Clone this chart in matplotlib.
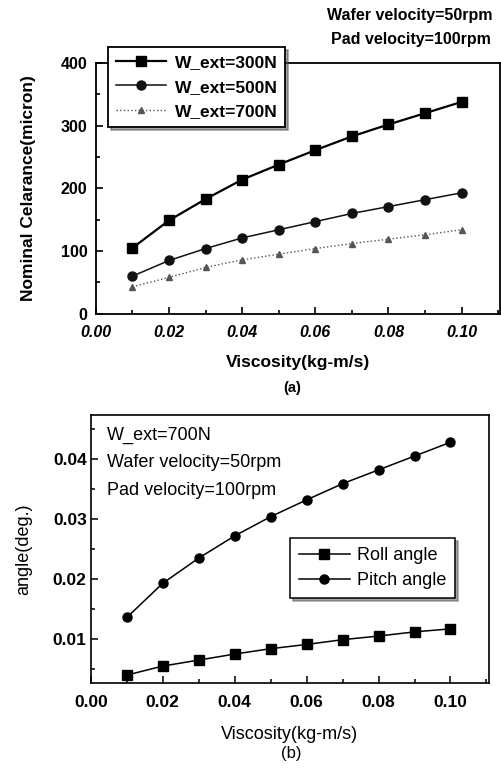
import matplotlib.pyplot as plt
from matplotlib.ticker import MultipleLocator

plt.rcParams['font.family'] = ['Liberation Sans', 'DejaVu Sans']

viscosity = [0.01, 0.02, 0.03, 0.04, 0.05, 0.06, 0.07, 0.08, 0.09, 0.10]

# (a) nominal clearance (micron)
w300 = [105, 149, 183, 214, 238, 261, 283, 302, 320, 338]
w500 = [60, 85, 104, 121, 134, 147, 160, 171, 182, 193]
w700 = [43, 58, 74, 86, 95, 104, 112, 119, 126, 134]

# (b) angles (deg.)
roll = [0.0040, 0.0055, 0.0065, 0.0075, 0.0084, 0.0091, 0.0099, 0.0105, 0.0112, 0.0117]
pitch = [0.0136, 0.0193, 0.0235, 0.0272, 0.0304, 0.0332, 0.0359, 0.0382, 0.0405, 0.0428]

fig = plt.figure(figsize=(5.02, 7.69), dpi=100)

# ---- (a)
ax1 = fig.add_axes([0.191, 0.592, 0.805, 0.326])
ax1.plot(viscosity, w300, '-', color='black', lw=1.6, marker='s', ms=7, label='W_ext=300N')
ax1.plot(viscosity, w500, '-', color='#111111', lw=1.1, marker='o', ms=6.5, label='W_ext=500N')
ax1.plot(viscosity, w700, ':', color='#555555', lw=1.0, marker='^', ms=5, label='W_ext=700N')
ax1.set_xlim(0.0, 0.1105)
ax1.set_ylim(0, 400)
ax1.xaxis.set_major_locator(MultipleLocator(0.02))
ax1.xaxis.set_minor_locator(MultipleLocator(0.01))
ax1.yaxis.set_major_locator(MultipleLocator(100))
ax1.yaxis.set_minor_locator(MultipleLocator(50))
ax1.tick_params(which='both', direction='in', width=1.2)
ax1.tick_params(which='major', length=5, labelsize=11.5)
ax1.tick_params(which='minor', length=3)
ax1.tick_params(axis='x', pad=8)
ax1.tick_params(axis='y', pad=6)
for lab in ax1.get_xticklabels():
    lab.set_fontweight('bold')
    lab.set_fontstyle('italic')
for lab in ax1.get_yticklabels():
    lab.set_fontweight('bold')
for s in ax1.spines.values():
    s.set_linewidth(1.3)
ax1.set_xlabel('Viscosity(kg-m/s)', fontsize=12.5, fontweight='bold', labelpad=11)
ax1.set_ylabel('Nominal Celarance(micron)', fontsize=12.5, fontweight='bold', labelpad=18)
leg1 = ax1.legend(loc='upper left', bbox_to_anchor=(0.215, 0.939), bbox_transform=fig.transFigure,
                  borderaxespad=0, frameon=True, fancybox=False, shadow=True, edgecolor='black',
                  prop={'weight': 'bold', 'size': 12.5}, handlelength=2.9,
                  borderpad=0.45, labelspacing=0.55, handletextpad=0.5)
leg1.get_frame().set_linewidth(1.3)
fig.text(0.982, 0.980, 'Wafer velocity=50rpm', ha='right', va='center', fontsize=11.5, fontweight='bold')
fig.text(0.977, 0.948, 'Pad velocity=100rpm', ha='right', va='center', fontsize=11.5, fontweight='bold')
fig.text(0.583, 0.496, '(a)', ha='center', va='center', fontsize=10.5, fontweight='bold')

# ---- (b)
ax2 = fig.add_axes([0.181, 0.112, 0.793, 0.348])
ax2.plot(viscosity, roll, '-', color='black', lw=1.1, marker='s', ms=6.5, label='Roll angle')
ax2.plot(viscosity, pitch, '-', color='black', lw=1.1, marker='o', ms=6.5, label='Pitch angle')
ax2.set_xlim(0.0, 0.1107)
ax2.set_ylim(0.0027, 0.0473)
ax2.xaxis.set_major_locator(MultipleLocator(0.02))
ax2.xaxis.set_minor_locator(MultipleLocator(0.01))
ax2.yaxis.set_major_locator(MultipleLocator(0.01))
ax2.yaxis.set_minor_locator(MultipleLocator(0.005))
ax2.tick_params(which='both', direction='in', width=1.1)
ax2.tick_params(which='major', length=5, labelsize=12.5)
ax2.tick_params(which='minor', length=3)
ax2.tick_params(axis='x', pad=9)
ax2.tick_params(axis='y', pad=3)
for lab in ax2.get_xticklabels() + ax2.get_yticklabels():
    lab.set_fontweight('bold')
for s in ax2.spines.values():
    s.set_linewidth(1.2)
ax2.set_xlabel('Viscosity(kg-m/s)', fontsize=13, labelpad=11)
ax2.set_ylabel('angle(deg.)', fontsize=13, labelpad=15)
ax2.text(0.04, 0.925, 'W_ext=700N', transform=ax2.transAxes, ha='left', va='center', fontsize=13)
ax2.text(0.04, 0.825, 'Wafer velocity=50rpm', transform=ax2.transAxes, ha='left', va='center', fontsize=13)
ax2.text(0.04, 0.72, 'Pad velocity=100rpm', transform=ax2.transAxes, ha='left', va='center', fontsize=13)
leg2 = ax2.legend(loc='upper left', bbox_to_anchor=(0.578, 0.300), bbox_transform=fig.transFigure,
                  borderaxespad=0, frameon=True, fancybox=False, shadow=True, edgecolor='black',
                  prop={'size': 13}, handlelength=2.8, borderpad=0.5, labelspacing=0.45,
                  handletextpad=0.4)
leg2.get_frame().set_linewidth(1.1)
fig.text(0.580, 0.020, '(b)', ha='center', va='center', fontsize=12)

fig.savefig('out.png', dpi=100)
